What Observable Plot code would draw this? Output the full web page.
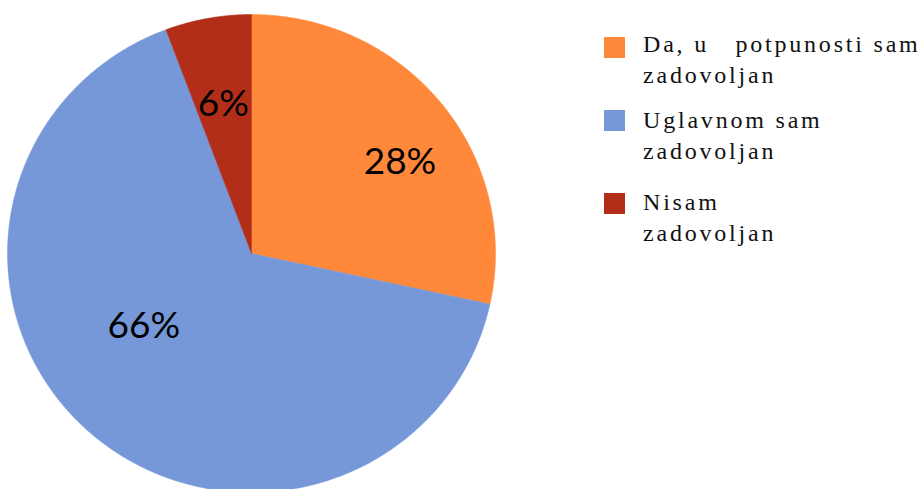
<!DOCTYPE html>
<html>
<head>
<meta charset="utf-8">
<script src="https://cdn.jsdelivr.net/npm/d3@7"></script>
<script src="https://cdn.jsdelivr.net/npm/@observablehq/plot@0.6"></script>
<style>
  html, body { margin: 0; padding: 0; background: #fff; }
  #wrap { position: relative; width: 923px; height: 489px; overflow: hidden; }
  #legend { position: absolute; left: 604px; top: 0; font-family: "Liberation Serif", serif; font-size: 24px; letter-spacing: 2.8px; color: #111; }
  .sw { position: absolute; left: 0; width: 21px; height: 21px; }
  .lbl { position: absolute; left: 39px; line-height: 31.5px; white-space: pre; }
</style>
</head>
<body>
<div id="wrap"></div>
<script>
const categories = ["Da, u  potpunosti sam zadovoljan", "Uglavnom sam zadovoljan", "Nisam zadovoljan"];
const legendLines = [["Da, u   potpunosti sam", "zadovoljan"], ["Uglavnom sam", "zadovoljan"], ["Nisam", "zadovoljan"]];
const values = [28.4, 65.9, 5.7];
const colors = ["#FF883A", "#7698D9", "#B22E18"];

const total = d3.sum(values);
let acc = 0;
const slices = categories.map((c, i) => {
  const a0 = acc / total * 2 * Math.PI;
  acc += values[i];
  const a1 = acc / total * 2 * Math.PI;
  return {category: c, value: values[i], a0, a1, mid: (a0 + a1) / 2, label: Math.round(values[i] / total * 100) + "%"};
});

const pts = [];
for (const s of slices) {
  pts.push({category: s.category, x: 0, y: 0});
  const n = Math.max(2, Math.ceil((s.a1 - s.a0) / (Math.PI / 360)));
  for (let k = 0; k <= n; k++) {
    const a = s.a0 + (s.a1 - s.a0) * k / n;
    pts.push({category: s.category, x: Math.sin(a), y: Math.cos(a)});
  }
  pts.push({category: s.category, x: 0, y: 0});
}

const labelR = 0.65;
const labelPts = slices.map(s => ({...s, x: labelR * Math.sin(s.mid), y: labelR * Math.cos(s.mid)}));
const offsets = [[25, 6], [-4, -45], [0, 4]];

const chart = Plot.plot({
  width: 923,
  height: 489,
  margin: 0,
  x: {domain: [-1, 1], range: [7, 495], axis: null},
  y: {domain: [-1, 1], range: [492, 14], axis: null},
  color: {domain: categories, range: colors},
  style: {background: "transparent", overflow: "hidden"},
  marks: [
    Plot.line(pts, {x: "x", y: "y", z: "category", fill: "category", stroke: "category", strokeWidth: 0.5, curve: "linear"}),
    ...labelPts.map((d, i) => Plot.text([d], {x: "x", y: "y", text: "label", dx: offsets[i][0], dy: offsets[i][1], fontSize: 37, fontFamily: "Lato, 'Open Sans', sans-serif", fill: "#000"}))
  ]
});

const wrap = document.getElementById("wrap");
wrap.appendChild(chart);

const legend = document.createElement("div");
legend.id = "legend";
const swTops = [37, 110, 193];
const textTops = [28.5, 104.5, 186.5];
categories.forEach((c, i) => {
  const sw = document.createElement("div");
  sw.className = "sw";
  sw.style.top = swTops[i] + "px";
  sw.style.background = colors[i];
  const lbl = document.createElement("div");
  lbl.className = "lbl";
  lbl.style.top = textTops[i] + "px";
  lbl.textContent = legendLines[i].join("\n");
  legend.appendChild(sw);
  legend.appendChild(lbl);
});
wrap.appendChild(legend);
</script>
</body>
</html>
